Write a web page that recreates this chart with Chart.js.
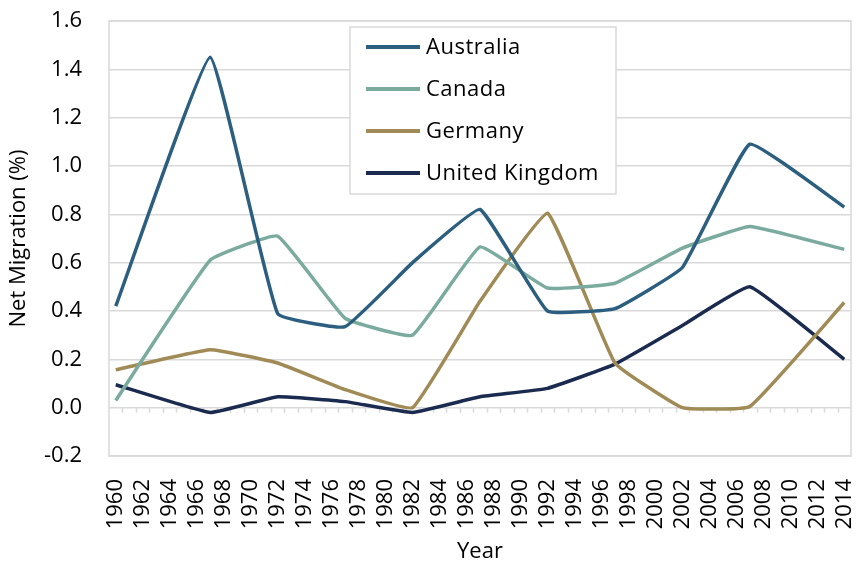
<!DOCTYPE html>
<html>
<head>
<meta charset="utf-8">
<script src="https://cdn.jsdelivr.net/npm/chart.js@4/dist/chart.umd.min.js"></script>
<style>
  html, body { margin: 0; padding: 0; background: #fff; }
  #wrap { position: relative; width: 857px; height: 565px; }
</style>
</head>
<body>
<div id="wrap"><canvas id="chart"></canvas></div>
<script>
/* category axis: every year, labelled every other one */
const YEARS = [
  '1960','1961','1962','1963','1964','1965','1966','1967','1968','1969',
  '1970','1971','1972','1973','1974','1975','1976','1977','1978','1979',
  '1980','1981','1982','1983','1984','1985','1986','1987','1988','1989',
  '1990','1991','1992','1993','1994','1995','1996','1997','1998','1999',
  '2000','2001','2002','2003','2004','2005','2006','2007','2008','2009',
  '2010','2011','2012','2013','2014'
];

/* years that carry a value */
const DATA_YEARS = ['1960','1967','1972','1977','1982','1987','1992','1997','2002','2007','2014'];

const AUSTRALIA = [0.42, 1.45, 0.39, 0.335, 0.60, 0.82, 0.40, 0.41, 0.58, 1.09, 0.83];
const CANADA    = [0.03, 0.61, 0.71, 0.37, 0.30, 0.665, 0.495, 0.515, 0.66, 0.75, 0.655];
const GERMANY   = [0.157, 0.24, 0.185, 0.075, 0.0, 0.44, 0.805, 0.185, 0.0, 0.005, 0.435];
const UK        = [0.095, -0.02, 0.045, 0.025, -0.02, 0.045, 0.08, 0.18, 0.34, 0.50, 0.20];

const SERIES = [
  { label: 'Australia',      values: AUSTRALIA, color: '#2c5f7f' },
  { label: 'Canada',         values: CANADA,    color: '#7aab9e' },
  { label: 'Germany',        values: GERMANY,   color: '#a08a56' },
  { label: 'United Kingdom', values: UK,        color: '#1b2b4f' },
];

const FONT = '"Open Sans", "DejaVu Sans", sans-serif';
const GRID = '#d9d9d9';

/* plot frame + small tick marks on the zero line */
const framePlugin = {
  id: 'frame',
  beforeDatasetsDraw(chart) {
    const { ctx, chartArea: a, scales } = chart;
    const y0 = scales.y.getPixelForValue(0);
    const n = YEARS.length;
    const step = (a.right - a.left) / n;
    ctx.save();
    ctx.strokeStyle = GRID;
    ctx.lineWidth = 1.5;
    ctx.strokeRect(a.left, a.top, a.right - a.left, a.bottom - a.top);
    ctx.beginPath();
    for (let i = 1; i < n; i++) {
      const x = Math.round(a.left + i * step) + 0.5;
      ctx.moveTo(x, y0);
      ctx.lineTo(x, y0 + 5);
    }
    ctx.stroke();
    ctx.restore();
  }
};

/* legend box sitting inside the plot */
const boxLegend = {
  id: 'boxLegend',
  afterDatasetsDraw(chart, args, opts) {
    const { ctx } = chart;
    ctx.save();
    ctx.fillStyle = '#fff';
    ctx.fillRect(opts.x, opts.y, opts.w, opts.h);
    ctx.strokeStyle = GRID;
    ctx.lineWidth = 1.5;
    ctx.strokeRect(opts.x, opts.y, opts.w, opts.h);
    ctx.font = '22px ' + FONT;
    ctx.textBaseline = 'middle';
    ctx.letterSpacing = '0.5px';
    chart.data.datasets.forEach((ds, i) => {
      const cy = opts.y + 20 + i * 42;
      ctx.strokeStyle = ds.borderColor;
      ctx.lineWidth = 4;
      ctx.beginPath();
      ctx.moveTo(opts.x + 16, cy);
      ctx.lineTo(opts.x + 70, cy);
      ctx.stroke();
      ctx.fillStyle = '#000';
      ctx.fillText(ds.label, opts.x + 76, cy + 1);
    });
    ctx.restore();
  }
};

new Chart(document.getElementById('chart'), {
  type: 'line',
  data: {
    labels: YEARS,
    datasets: SERIES.map(s => ({
      label: s.label,
      data: DATA_YEARS.map((yr, i) => ({ x: yr, y: s.values[i] })),
      borderColor: s.color,
      backgroundColor: s.color,
      borderWidth: 3.5,
      pointRadius: 0,
      tension: 0.1,
      fill: false,
    })),
  },
  options: {
    responsive: true,
    maintainAspectRatio: false,
    animation: false,
    layout: { padding: { top: 21, right: 6, bottom: 0, left: 0 } },
    scales: {
      x: {
        type: 'category',
        offset: true,
        grid: { display: false, drawTicks: false },
        border: { display: false },
        ticks: {
          autoSkip: false,
          minRotation: 90,
          maxRotation: 90,
          padding: 23,
          color: '#000',
          font: { family: FONT, size: 22 },
          callback: (v, i) => (i % 2 === 0 ? YEARS[i] : ''),
        },
        title: {
          display: true,
          text: 'Year',
          color: '#000',
          font: { family: FONT, size: 22 },
          padding: { top: 0, bottom: 0 },
        },
        afterFit: s => {
          s.height = 109;
          s.paddingLeft = 0;
          s.paddingRight = 0;
        },
      },
      y: {
        min: -0.2,
        max: 1.6,
        grid: { color: GRID, lineWidth: 1.5, drawTicks: false },
        border: { display: false },
        ticks: {
          stepSize: 0.2,
          padding: 27,
          color: '#000',
          font: { family: FONT, size: 22 },
          callback: v => v.toFixed(1),
        },
        title: {
          display: true,
          text: 'Net Migration (%)',
          color: '#000',
          font: { family: FONT, size: 22 },
          padding: { top: 6, bottom: 0 },
        },
        afterFit: s => {
          s.width = 109;
          s.paddingTop = 0;
          s.paddingBottom = 0;
        },
      },
    },
    plugins: {
      legend: { display: false },
      tooltip: { enabled: false },
      boxLegend: { x: 350, y: 27, w: 266, h: 167 },
    },
  },
  plugins: [framePlugin, boxLegend],
});
</script>
</body>
</html>
